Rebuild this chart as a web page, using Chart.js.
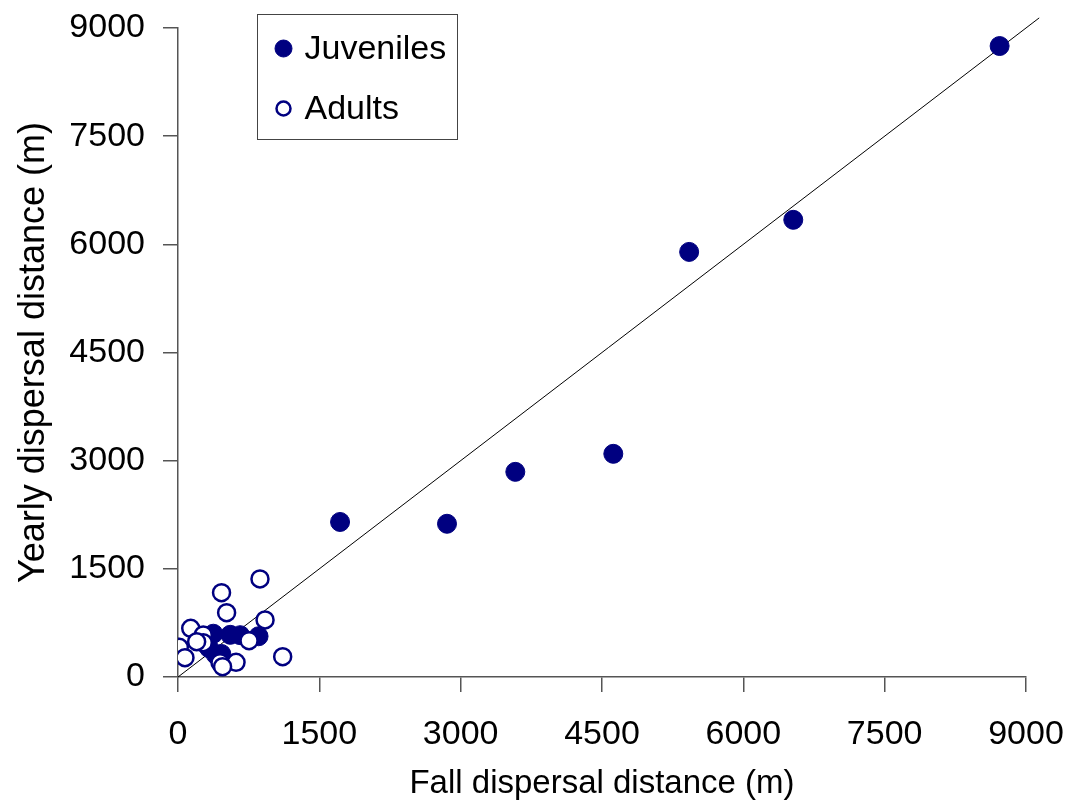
<!DOCTYPE html>
<html>
<head>
<meta charset="utf-8">
<script src="https://cdn.jsdelivr.net/npm/chart.js@4/dist/chart.umd.min.js"></script>
<style>
    html, body { margin: 0; padding: 0; background: #fff; }
    #wrap { width: 1072px; height: 808px; }
</style>
</head>
<body>
<div id="wrap"><canvas id="dispersalChart" width="1072" height="808"></canvas></div>
<script>
// fall vs yearly dispersal distance (m)
const juvenileFall   = [8720, 6530, 5425, 4620, 3580, 2855, 1720, 375, 555, 660, 855, 330, 400, 460, 440];
const juvenileYearly = [8750, 6340, 5895, 3095, 2845, 2125, 2150, 600, 585, 580, 565, 400, 310, 320, 260];

const adultFall   = [870, 462, 516, 924, 135, 268, 268, 198, 754, 14, 74, 446, 616, 473, 1111];
const adultYearly = [1360, 1170, 892, 791, 675, 583, 476, 490, 504, 412, 268, 198, 204, 143, 282];

// 1:1 reference line
const lineFall   = [0, 9140];
const lineYearly = [0, 9140];

const tickStep = 1500;
const axisMax = 9000;

const navy = "#000080";
const fontFamily = "'Liberation Sans', Arial, sans-serif";

function toPoints(xs, ys) {
    return xs.map((x, i) => ({ x: x, y: ys[i] }));
}

// legend drawn inside the plot, top left, boxed
const boxedLegend = {
    id: "boxedLegend",
    afterDraw(chart) {
        const ctx = chart.ctx;
        const area = chart.chartArea;
        const left = area.left + 79.5;
        const top = area.top - 13.5;
        const w = 200, h = 125;
        ctx.save();
        ctx.fillStyle = "#fff";
        ctx.fillRect(left, top, w, h);
        ctx.strokeStyle = "#444";
        ctx.lineWidth = 1;
        ctx.strokeRect(left, top, w, h);

        const rows = [chart.data.datasets[0], chart.data.datasets[1]];
        rows.forEach((ds, i) => {
            const cy = top + 34 + i * 60;
            const cx = left + 26;
            ctx.beginPath();
            ctx.arc(cx, cy, i === 0 ? 8.5 : 7, 0, Math.PI * 2);
            ctx.fillStyle = ds.backgroundColor;
            ctx.fill();
            ctx.lineWidth = ds.borderWidth;
            ctx.strokeStyle = ds.borderColor;
            ctx.stroke();
            ctx.fillStyle = "#000";
            ctx.font = "34px " + fontFamily;
            ctx.textBaseline = "middle";
            ctx.fillText(ds.label, left + 47, cy + 1);
        });
        ctx.restore();
    }
};

const axisCommon = {
    type: "linear",
    min: 0,
    max: axisMax,
    border: { display: true, color: "#555", width: 1.5 },
    grid: { drawOnChartArea: false, drawTicks: true, tickLength: 15, color: "#555", lineWidth: 1.5 },
    ticks: {
        stepSize: tickStep,
        color: "#000",
        font: { family: fontFamily, size: 34 },
        callback: value => String(value)
    }
};

// fixed axis boxes; label overflow is covered by layout padding
function fixBox(size, key) {
    return scale => {
        scale[key] = size;
        scale.paddingTop = 0;
        scale.paddingBottom = 0;
        scale.paddingLeft = 0;
        scale.paddingRight = 0;
    };
}

new Chart(document.getElementById("dispersalChart"), {
    type: "scatter",
    data: {
        datasets: [
            {
                label: "Juveniles",
                data: toPoints(juvenileFall, juvenileYearly),
                backgroundColor: navy,
                borderColor: navy,
                borderWidth: 1,
                pointRadius: 9.5,
                order: 2
            },
            {
                label: "Adults",
                data: toPoints(adultFall, adultYearly),
                backgroundColor: "#fff",
                borderColor: navy,
                borderWidth: 2.5,
                pointRadius: 8.5,
                order: 1
            },
            {
                type: "line",
                label: "1:1",
                data: toPoints(lineFall, lineYearly),
                borderColor: "#000",
                borderWidth: 1,
                pointRadius: 0,
                fill: false,
                clip: false,
                order: 3
            }
        ]
    },
    options: {
        responsive: false,
        animation: false,
        layout: { padding: { left: 0, top: 28, right: 46, bottom: 0 } },
        plugins: {
            legend: { display: false },
            tooltip: { enabled: false }
        },
        scales: {
            x: {
                ...axisCommon,
                position: "bottom",
                ticks: { ...axisCommon.ticks, padding: 22, maxRotation: 0 },
                title: {
                    display: true,
                    text: "Fall dispersal distance (m)",
                    color: "#000",
                    font: { family: fontFamily, size: 33 },
                    padding: { top: 0, bottom: 4 }
                },
                afterFit: fixBox(131, "height")
            },
            y: {
                ...axisCommon,
                position: "left",
                ticks: { ...axisCommon.ticks, padding: 18 },
                title: {
                    display: true,
                    text: "Yearly dispersal distance (m)",
                    color: "#000",
                    font: { family: fontFamily, size: 36 },
                    padding: { top: 12, bottom: 0 }
                },
                afterFit: fixBox(178, "width")
            }
        }
    },
    plugins: [boxedLegend]
});
</script>
</body>
</html>
